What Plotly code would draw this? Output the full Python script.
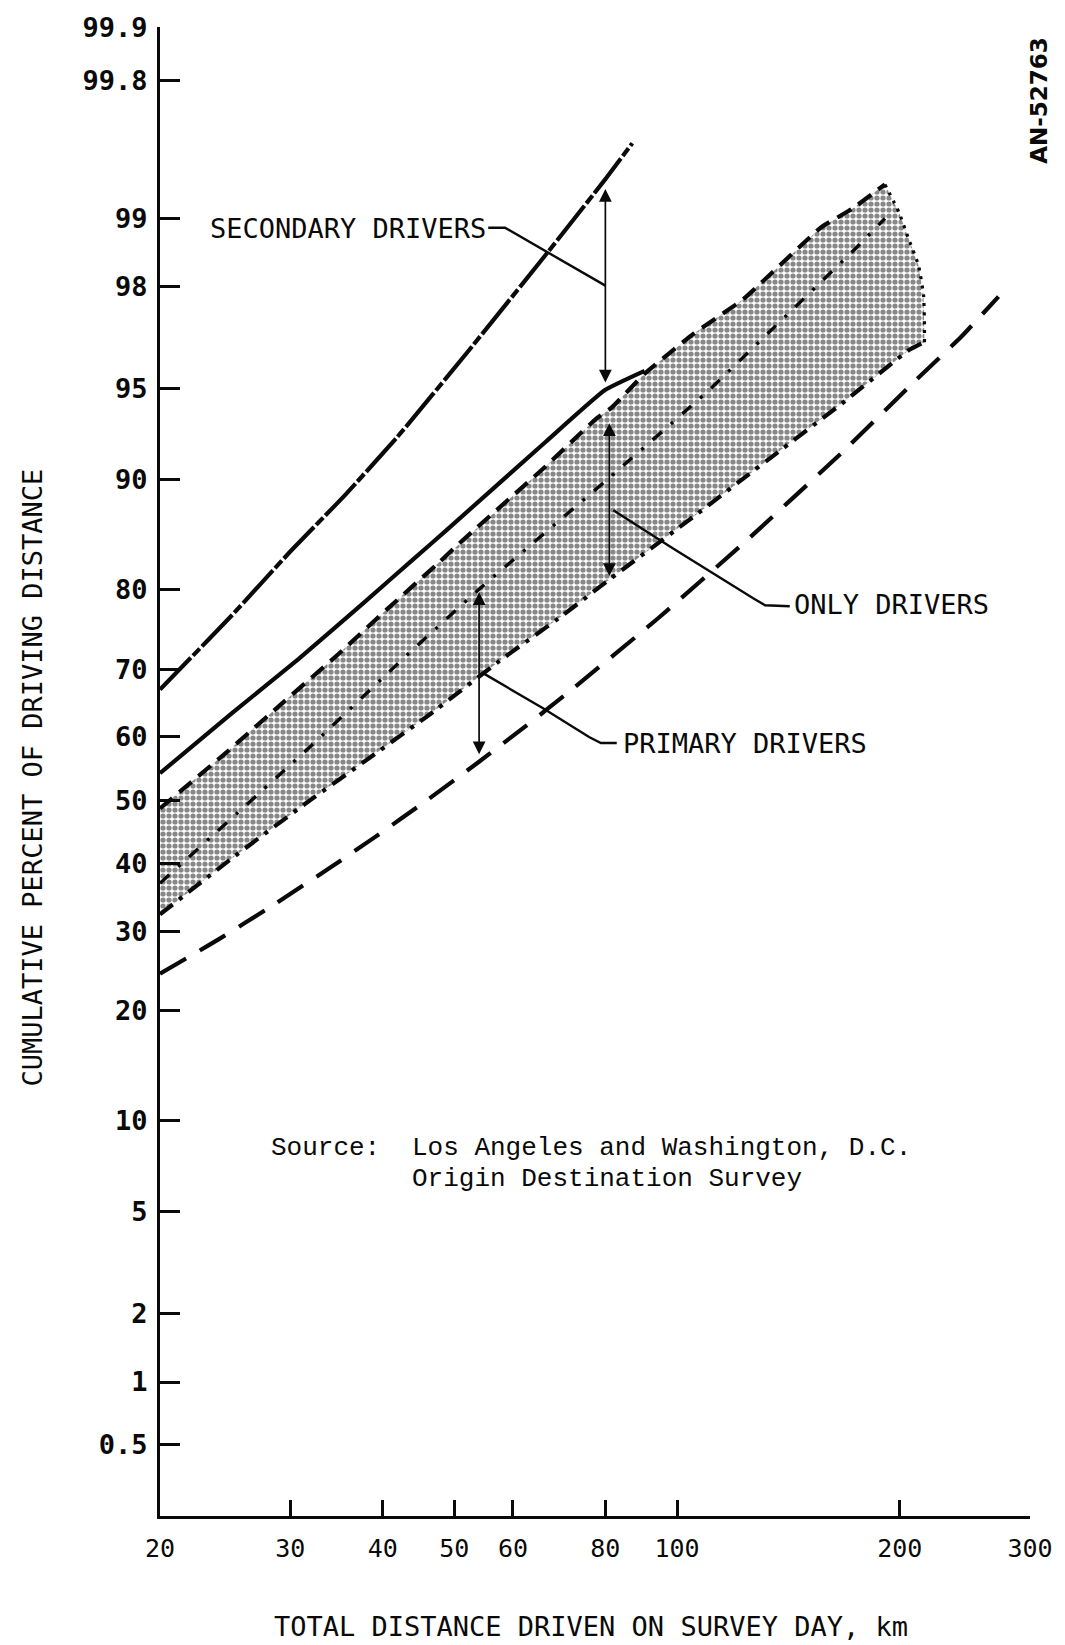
import numpy as np
import plotly.graph_objects as go
from statistics import NormalDist

_ND = NormalDist()


def zf(p):
    return _ND.inv_cdf(p / 100.0)


# ---------------- data (km, cumulative percent) ----------------
sec_upper_km = [20, 25, 30, 35.6, 41.9, 51.9, 66, 80, 87]
sec_upper_pct = [67.1, 77.0, 84.0, 88.9, 92.7, 96.3, 98.5, 99.35, 99.57]

sec_lower_km = [20, 25, 30.8, 37.8, 44.1, 48.8, 66.4, 79.9, 90.4]
sec_lower_pct = [54.3, 63.6, 71.4, 78.6, 83.3, 86.0, 92.4, 94.95, 95.7]

only_upper_km = [20, 24.6, 29.4, 34.8, 40.6, 47.8, 50.8, 66.4, 77.5, 81.7, 90.4, 105.4, 123, 156.5, 172.5, 191]
only_upper_pct = [48.7, 57.6, 65.3, 72.0, 77.8, 83.0, 84.8, 90.9, 93.6, 94.2, 95.6, 96.9, 97.75, 98.9, 99.1, 99.31]

only_edge_km = [191, 199.6, 205.6, 212, 215.4, 216, 216]
only_edge_pct = [99.31, 99.06, 98.76, 98.38, 97.83, 97.13, 96.65]

only_lower_km = [20, 25.0, 31.4, 39.0, 46.4, 57.5, 70, 80.6, 106, 123, 136, 169, 205.6, 216]
only_lower_pct = [32.4, 40.8, 49.4, 57.3, 63.5, 71.1, 77.0, 81.0, 87.3, 90.1, 91.7, 94.5, 96.4, 96.65]

prim_upper_km = [20, 32, 42.8, 53.9, 80, 110, 143, 175, 191]
prim_upper_pct = [37.0, 58.6, 71.6, 80.0, 89.9, 94.9, 97.5, 98.65, 99.0]

prim_lower_km = [20, 24, 28.3, 34.1, 39, 45.9, 54.1, 62.5, 71.3, 94.1, 123, 167.3, 209.4, 242, 272]
prim_lower_pct = [24.4, 28.9, 33.6, 39.5, 44.1, 50.0, 56.2, 61.7, 66.7, 76.6, 84.8, 91.8, 95.3, 96.8, 97.8]

x_ticks = [20, 30, 40, 50, 60, 80, 100, 200, 300]
y_ticks = [0.5, 1, 2, 5, 10, 20, 30, 40, 50, 60, 70, 80, 90, 95, 98, 99, 99.8, 99.9]
y_tick_text = ["0.5", "1", "2", "5", "10", "20", "30", "40", "50", "60", "70", "80", "90", "95", "98", "99", "99.8", "99.9"]

arrow_secondary_km = 80
arrow_only_km = 81
arrow_primary_km = 54

# ---------------- layout geometry ----------------
W, H = 1065, 1645
ML, MR, MT, MB = 160, 25, 25, 129
PW, PH = W - ML - MR, H - MT - MB
X0, X1 = np.log10(20), np.log10(300)
Y0, Y1 = -2.862, 3.092


def zs(pcts):
    return [zf(p) for p in pcts]


def interp_z(km, xs, ps):
    return float(np.interp(np.log10(km), np.log10(xs), zs(ps)))


def paper(px, py):
    return (px - ML) / PW, (H - MB - py) / PH


def km_to_px(km):
    return ML + (np.log10(km) - X0) / (X1 - X0) * PW


fig = go.Figure()

# shaded "only drivers" band
poly_x = only_upper_km + only_edge_km[1:] + only_lower_km[::-1][1:]
poly_p = only_upper_pct + only_edge_pct[1:] + only_lower_pct[::-1][1:]
fig.add_trace(go.Scatter(
    x=poly_x, y=zs(poly_p), mode="lines", fill="toself",
    line=dict(width=0, color="rgba(0,0,0,0)"),
    fillcolor="rgba(0,0,0,0)",
    fillpattern=dict(shape=".", fgcolor="#111111", bgcolor="white", size=6, solidity=0.6),
    hoverinfo="skip", showlegend=False))

BLK = "#0a0a0a"


def add_line(xs, ps, dash, width=4.2):
    fig.add_trace(go.Scatter(
        x=xs, y=zs(ps), mode="lines",
        line=dict(color=BLK, width=width, dash=dash, shape="spline", smoothing=0.4),
        hoverinfo="skip", showlegend=False))


add_line(sec_upper_km, sec_upper_pct, "44px,3px,10px,3px")
add_line(sec_lower_km, sec_lower_pct, "solid")
add_line(only_upper_km, only_upper_pct, "16px,9px")
add_line(only_edge_km, only_edge_pct, "3px,6px", width=3.2)
add_line(only_lower_km, only_lower_pct, "16px,8px,4px,8px")
add_line(prim_upper_km, prim_upper_pct, "12px,12px,3px,12px", width=3.4)
add_line(prim_lower_km, prim_lower_pct, "30px,16px")

# ---------------- double-headed range arrows ----------------
annotations = []


def range_arrow(km, lo_xs, lo_ps, hi_xs, hi_ps, head_off, tail_off):
    zl = interp_z(km, lo_xs, lo_ps)
    zh = interp_z(km, hi_xs, hi_ps)
    lx = float(np.log10(km))
    annotations.append(dict(
        x=lx, y=zh, ax=lx, ay=zl, xref="x", yref="y", axref="x", ayref="y",
        text="", showarrow=True, arrowhead=2, arrowside="end+start",
        arrowsize=1.5, arrowwidth=1.7, arrowcolor=BLK,
        standoff=head_off, startstandoff=tail_off))


range_arrow(arrow_secondary_km, sec_lower_km, sec_lower_pct, sec_upper_km, sec_upper_pct, 10, 6)
range_arrow(arrow_only_km, only_lower_km, only_lower_pct, only_upper_km, only_upper_pct, 14, 2)
range_arrow(arrow_primary_km, prim_lower_km, prim_lower_pct, prim_upper_km, prim_upper_pct, 3, 6)

# ---------------- leader lines ----------------
shapes = []


def leader(points):
    pts = [paper(px, py) for px, py in points]
    path = "M {:.5f},{:.5f} ".format(*pts[0]) + " ".join("L {:.5f},{:.5f}".format(*p) for p in pts[1:])
    shapes.append(dict(type="path", path=path, xref="paper", yref="paper",
                       line=dict(color=BLK, width=2.4)))


sx = km_to_px(arrow_secondary_km)
leader([(492, 226), (509, 226), (sx, 284)])
ox = km_to_px(arrow_only_km)
leader([(ox + 4, 509), (677, 546), (760, 597), (772, 604), (797, 605)])
px_ = km_to_px(arrow_primary_km)
leader([(px_ + 4, 672), (547, 707), (594, 736), (606, 742), (622, 742)])

# ---------------- text ----------------
LBL = dict(family="DejaVu Sans Mono", size=27, color=BLK)
SRC = dict(family="Liberation Mono", size=26, color=BLK)


def text_px(t, px, py, font, xanchor="left", angle=0, yanchor="middle"):
    xp, yp = paper(px, py)
    annotations.append(dict(text=t, x=xp, y=yp, xref="paper", yref="paper",
                            xanchor=xanchor, yanchor=yanchor, showarrow=False,
                            font=font, textangle=angle))


text_px("SECONDARY DRIVERS", 209, 227, LBL)
text_px("ONLY DRIVERS", 799, 603, LBL)
text_px("PRIMARY DRIVERS", 626, 742, LBL)
text_px("Source:", 270, 1148, SRC)
text_px("Los Angeles and Washington, D.C.", 413, 1148, SRC)
text_px("Origin Destination Survey", 413, 1179, SRC)
text_px("TOTAL DISTANCE DRIVEN ON SURVEY DAY, km", 596, 1627, LBL, xanchor="center")
text_px("CUMULATIVE PERCENT OF DRIVING DISTANCE", 32, 776, LBL, xanchor="center", angle=-90)
text_px("AN-52763", 1049, 98, dict(family="DejaVu Sans", size=23, color=BLK, weight="bold"),
        xanchor="center", angle=-90)

fig.update_layout(
    width=W, height=H, autosize=False,
    margin=dict(l=ML, r=MR, t=MT, b=MB, pad=0),
    paper_bgcolor="white", plot_bgcolor="white",
    showlegend=False,
    annotations=annotations, shapes=shapes,
    xaxis=dict(type="log", range=[X0, X1], tickvals=x_ticks, ticktext=[str(v) for v in x_ticks],
               ticks="inside", ticklen=16, tickwidth=2.5, tickcolor=BLK,
               showline=True, linewidth=3.2, linecolor=BLK, showgrid=False, zeroline=False,
               tickfont=dict(family="DejaVu Sans Mono", size=25, color=BLK),
               ticklabelstandoff=8),
    yaxis=dict(range=[Y0, Y1], tickvals=zs(y_ticks), ticktext=y_tick_text,
               ticks="inside", ticklen=20, tickwidth=3, tickcolor=BLK,
               showline=True, linewidth=3.2, linecolor=BLK, showgrid=False, zeroline=False,
               tickfont=dict(family="DejaVu Sans Mono", size=27, color=BLK, weight="bold"),
               ticklabelstandoff=4),
)

fig.write_html("out.html")
